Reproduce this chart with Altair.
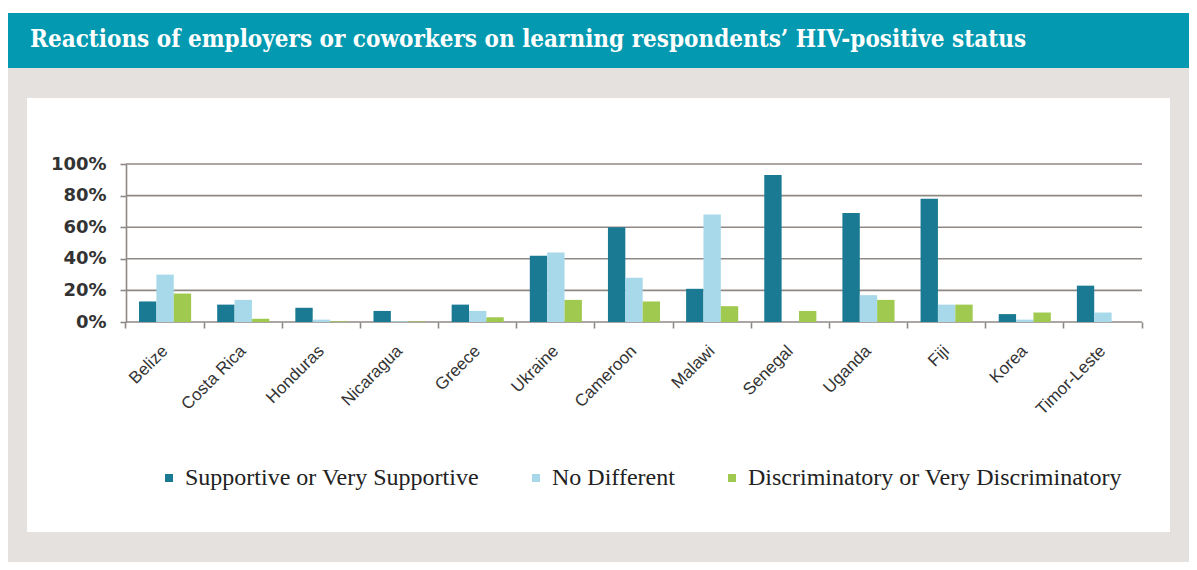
import altair as alt
import pandas as pd

countries = ["Belize", "Costa Rica", "Honduras", "Nicaragua", "Greece", "Ukraine",
             "Cameroon", "Malawi", "Senegal", "Uganda", "Fiji", "Korea", "Timor-Leste"]
supportive = [13, 11, 9, 7, 11, 42, 60, 21, 93, 69, 78, 5, 23]
no_different = [30, 14, 1.5, 0.4, 7, 44, 28, 68, 0, 17, 11, 1.5, 6]
discriminatory = [18, 2, 0.4, 0.3, 3, 14, 13, 10, 7, 14, 11, 6, 0]
series = ["Supportive or Very Supportive", "No Different", "Discriminatory or Very Discriminatory"]
colors = ["#1b7a93", "#a8d9ea", "#9fc94f"]
y_ticks = [0, 20, 40, 60, 80, 100]
title_text = "Reactions of employers or coworkers on learning respondents\u2019 HIV-positive status"

rows = []
for i, c in enumerate(countries):
    for s, vals in zip(series, [supportive, no_different, discriminatory]):
        rows.append({"country": c, "series": s, "value": vals[i]})
df = pd.DataFrame(rows)

W, H = 1016, 158
GRID = "#8f8985"
one = pd.DataFrame({"a": [0]})

gray_bg = alt.Chart(one).mark_rect(color="#e4e1de").encode(
    x=alt.value(-118), x2=alt.value(1063), y=alt.value(-96), y2=alt.value(398))
banner = alt.Chart(one).mark_rect(color="#0399b0").encode(
    x=alt.value(-118), x2=alt.value(1063), y=alt.value(-151), y2=alt.value(-96))
panel = alt.Chart(one).mark_rect(color="#ffffff").encode(
    x=alt.value(-99), x2=alt.value(1044), y=alt.value(-66), y2=alt.value(368))
title = alt.Chart(one).mark_text(
    text=title_text, color="white", font="DejaVu Serif Condensed", fontWeight="bold",
    fontSize=24, align="left", baseline="middle").encode(
    x=alt.value(-96), y=alt.value(-124))

yscale = alt.Scale(domain=[0, 100])
yaxis = alt.Axis(values=y_ticks, labelExpr="datum.value + '%'", grid=False,
                 domain=True, domainColor=GRID, domainWidth=1.6,
                 ticks=True, tickColor=GRID, tickSize=6, tickWidth=1.6,
                 labelFont="DejaVu Sans", labelFontWeight="bold", labelFontSize=18,
                 labelColor="#333", labelPadding=14, zindex=1)

grid = alt.Chart(pd.DataFrame({"v": y_ticks})).mark_rule(color=GRID, strokeWidth=1.6).encode(
    y=alt.Y("v:Q", scale=yscale, axis=yaxis, title=None))

bars = alt.Chart(df).mark_bar().encode(
    x=alt.X("country:N", sort=countries, title=None,
            scale=alt.Scale(paddingInner=0, paddingOuter=0),
            axis=alt.Axis(labelAngle=315, labelAlign="right", labelBaseline="middle",
                          labelFont="Liberation Sans", labelFontSize=17,
                          labelColor="#333", labelPadding=20, domain=False,
                          ticks=True, tickColor=GRID, tickSize=6, tickWidth=1.6,
                          bandPosition=1, tickExtra=True, zindex=1)),
    xOffset=alt.XOffset("series:N", sort=series,
                        scale=alt.Scale(paddingInner=0, paddingOuter=0.75)),
    y=alt.Y("value:Q", scale=yscale, title=None, axis=yaxis),
    color=alt.Color("series:N", sort=series, scale=alt.Scale(domain=series, range=colors),
                    legend=alt.Legend(title=None, orient="none", legendX=31, legendY=302,
                                      direction="horizontal", symbolType="square",
                                      symbolSize=64, symbolStrokeWidth=0, labelOffset=4,
                                      columnPadding=45, labelFont="Liberation Serif",
                                      labelFontSize=24, labelColor="#222", padding=0,
                                      labelLimit=600)),
)

chart = alt.layer(gray_bg, banner, panel, title, grid, bars).properties(
    width=W, height=H,
    autosize=alt.AutoSizeParams(type="none"),
    padding={"left": 118, "top": 156, "right": 47, "bottom": 240},
    background="white",
).configure_view(stroke=None)

chart.save("out.html", embed_options={"renderer": "svg", "actions": False})
